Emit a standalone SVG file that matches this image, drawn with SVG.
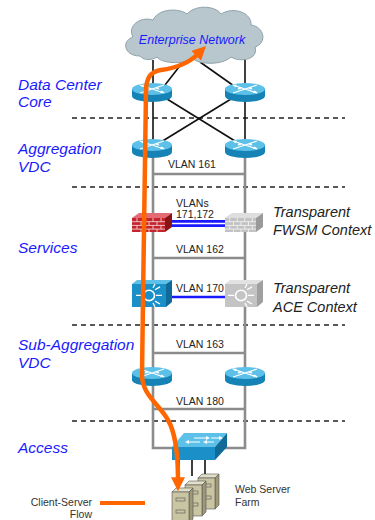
<svg xmlns="http://www.w3.org/2000/svg" width="375" height="520" viewBox="0 0 375 520">
  <style>
    .layer { font-family: "Liberation Sans", Arial, sans-serif; font-style: italic; font-size: 15.5px; fill: #1a1aff; }
    .ctx { font-family: "Liberation Sans", Arial, sans-serif; font-style: italic; font-size: 14.5px; fill: #222; }
    .vlan { font-family: "Liberation Sans", Arial, sans-serif; font-size: 10.5px; fill: #222; }
    .small { font-family: "Liberation Sans", Arial, sans-serif; font-size: 10.5px; fill: #333; }
    .dash { stroke: #222; stroke-width: 1.3; stroke-dasharray: 5 4; fill: none; }
    .blk { stroke: #111; stroke-width: 1.6; fill: none; }
    .gry { stroke: #8c8c8c; stroke-width: 2.6; fill: none; }
    .flow { stroke: #ff6600; stroke-width: 4.5; fill: none; }
  </style>
  <defs>
    <marker id="ah" viewBox="0 0 10 10" refX="2" refY="5" markerWidth="14" markerHeight="14" markerUnits="userSpaceOnUse" orient="auto-start-reverse">
      <path d="M0,0 L10,5 L0,10 Z" fill="#ff6600"/>
    </marker>
    <g id="router">
      <path d="M-20,-3 V4 A20,6 0 0 0 20,4 V-3 Z" fill="#1583b5"/>
      <ellipse cx="0" cy="-3" rx="20" ry="6" fill="#5cc0e8"/>
      <path d="M-12,-7 L12,1 M12,-7 L-12,1" stroke="#fff" stroke-width="1.2" fill="none"/>
      <path d="M-13,-7.3 L-8,-7.2 L-9.5,-4.8 Z M13,0.8 L8,0.8 L9.5,-1.6 Z M-3,-3 L-7.5,-2.6 L-6.2,-4.9 Z M3,-3 L7.5,-2.6 L6.2,-4.9 Z" fill="#fff"/>
    </g>
    <g id="bricks">
      <path d="M0,5 H33 M0,10 H33 M0,15 H33 M5,0 V5 M13,0 V5 M21,0 V5 M29,0 V5 M9,5 V10 M17,5 V10 M25,5 V10 M5,10 V15 M13,10 V15 M21,10 V15 M29,10 V15 M9,15 V19 M17,15 V19 M25,15 V19" stroke="#fff" stroke-width="0.8" fill="none"/>
    </g>
    <g id="ace-face">
      <circle cx="17" cy="12" r="5.5" fill="none" stroke="#fff" stroke-width="1.6"/>
      <path d="M4,12 H10 M24,12 H30 M23,6 L28,3 M23,18 L28,21 M21,4 L23,0 M21,20 L23,24" stroke="#fff" stroke-width="1.3" fill="none"/>
    </g>
    <g id="server">
      <path d="M0,4 L4,0 H21 L17,4 Z" fill="#e2dfc6" stroke="#555" stroke-width="0.6"/>
      <path d="M17,4 L21,0 V31 L17,35 Z" fill="#9e9878" stroke="#555" stroke-width="0.6"/>
      <rect x="0" y="4" width="17" height="31" fill="#c9c4a2" stroke="#555" stroke-width="0.6"/>
      <rect x="4" y="10" width="9" height="3" fill="none" stroke="#555" stroke-width="0.6"/>
      <rect x="4" y="22" width="9" height="3" fill="none" stroke="#555" stroke-width="0.6"/>
    </g>
  </defs>

  <!-- tier separators -->
  <g id="separators">
    <line class="dash" x1="72" y1="118" x2="345" y2="118"/>
    <line class="dash" x1="72" y1="187" x2="345" y2="187"/>
    <line class="dash" x1="72" y1="325" x2="345" y2="325"/>
    <line class="dash" x1="72" y1="421" x2="345" y2="421"/>
  </g>

  <!-- tier names -->
  <g id="tier-labels">
    <text class="layer" x="18" y="90">Data Center</text>
    <text class="layer" x="18" y="107">Core</text>
    <text class="layer" x="18" y="154">Aggregation</text>
    <text class="layer" x="18" y="172">VDC</text>
    <text class="layer" x="18" y="253">Services</text>
    <text class="layer" x="18" y="350">Sub-Aggregation</text>
    <text class="layer" x="18" y="368">VDC</text>
    <text class="layer" x="18" y="453">Access</text>
  </g>

  <!-- links -->
  <g id="connectors">
    <line class="blk" x1="153" y1="60" x2="153" y2="86"/>
    <line class="blk" x1="245" y1="55" x2="245" y2="86"/>
    <line class="blk" x1="165" y1="85" x2="186" y2="58"/>
    <line class="blk" x1="234" y1="86" x2="200" y2="62"/>
    <line class="blk" x1="153" y1="98" x2="153" y2="142"/>
    <line class="blk" x1="245" y1="98" x2="245" y2="142"/>
    <line class="blk" x1="167" y1="99" x2="235" y2="141"/>
    <line class="blk" x1="231" y1="99" x2="161" y2="142"/>
    <path class="gry" d="M153,156 V448 H174 M245,156 V448 H225"/>
    <line class="gry" x1="153" y1="174" x2="245" y2="174"/>
    <line class="gry" x1="153" y1="258" x2="245" y2="258"/>
    <line class="gry" x1="153" y1="353" x2="245" y2="353"/>
    <line class="gry" x1="153" y1="409" x2="245" y2="409"/>
    <line x1="171" y1="223.5" x2="226" y2="223.5" stroke="#1a1aff" stroke-width="7"/>
    <line x1="171" y1="223.5" x2="226" y2="223.5" stroke="#fff" stroke-width="1.6"/>
    <line x1="171" y1="297" x2="226" y2="297" stroke="#1a1aff" stroke-width="2.6"/>
    <path class="blk" d="M179,460 V478 M192,460 V476 M205,460 V476"/>
  </g>

  <!-- VLAN labels -->
  <g id="vlan-labels">
    <text class="vlan" x="168" y="168">VLAN 161</text>
    <text class="vlan" x="176" y="207">VLANs</text>
    <text class="vlan" x="176" y="218">171,172</text>
    <text class="vlan" x="176" y="253">VLAN 162</text>
    <text class="vlan" x="176" y="292">VLAN 170</text>
    <text class="vlan" x="176" y="348">VLAN 163</text>
    <text class="vlan" x="176" y="405">VLAN 180</text>
  </g>

  <!-- enterprise cloud -->
  <g id="enterprise-network">
    <path d="M140,56 C124,56 121,41 133,37 C127,26 140,16 153,20 C159,8 179,8 187,14 C196,4 216,6 221,14 C234,6 252,13 251,25 C265,27 267,43 255,47 C259,59 241,63 231,57 C223,65 201,65 193,59 C181,65 161,63 157,57 C151,61 143,60 140,56 Z" fill="#b7c7cd" stroke="#8fa3aa" stroke-width="1"/>
    <text x="192" y="44" text-anchor="middle" font-family="Liberation Sans, Arial, sans-serif" font-style="italic" font-size="12.5" fill="#1a1aff">Enterprise Network</text>
  </g>

  <!-- routers -->
  <g id="core-left"><use href="#router" transform="translate(152,92)"/></g>
  <g id="core-right"><use href="#router" transform="translate(245,92)"/></g>
  <g id="agg-left"><use href="#router" transform="translate(152,148)"/></g>
  <g id="agg-right"><use href="#router" transform="translate(245,148)"/></g>
  <g id="subagg-left"><use href="#router" transform="translate(152,376)"/></g>
  <g id="subagg-right"><use href="#router" transform="translate(245,376)"/></g>

  <!-- firewall contexts -->
  <g id="fwsm-active">
    <path d="M132,218 L139,213 H172 L165,218 Z" fill="#e46a74"/>
    <path d="M165,218 L172,213 V227 L165,232 Z" fill="#8a1414"/>
    <rect x="132" y="218" width="33" height="14" fill="#c4242c"/>
    <g transform="translate(132,218) scale(1,0.74)"><use href="#bricks"/></g>
  </g>
  <g id="fwsm-standby">
    <path d="M225,218 L232,213 H263 L256,218 Z" fill="#dedede"/>
    <path d="M256,218 L263,213 V227 L256,232 Z" fill="#9a9a9a"/>
    <rect x="225" y="218" width="31" height="14" fill="#c2c2c2"/>
    <g transform="translate(225,218) scale(0.94,0.74)"><use href="#bricks"/></g>
  </g>
  <g id="text-fwsm">
    <text class="ctx" x="273" y="217">Transparent</text>
    <text class="ctx" x="273" y="235">FWSM Context</text>
  </g>

  <!-- ACE contexts -->
  <g id="ace-active">
    <path d="M132,284 L137,280 H172 L166,284 Z" fill="#5cc0e8"/>
    <path d="M166,284 L172,280 V302 L166,307 Z" fill="#0f6a98"/>
    <rect x="132" y="284" width="34" height="23" fill="#1a8fc8"/>
    <use href="#ace-face" transform="translate(132,284) scale(1,0.95)"/>
  </g>
  <g id="ace-standby">
    <path d="M225,284 L230,280 H263 L257,284 Z" fill="#e2e2e2"/>
    <path d="M257,284 L263,280 V302 L257,307 Z" fill="#a0a0a0"/>
    <rect x="225" y="284" width="32" height="23" fill="#c4c4c4"/>
    <use href="#ace-face" transform="translate(224,284) scale(1,0.95)"/>
  </g>
  <g id="text-ace">
    <text class="ctx" x="273" y="293">Transparent</text>
    <text class="ctx" x="273" y="312">ACE Context</text>
  </g>

  <!-- access switch -->
  <g id="access-switch">
    <path d="M184,433 H227 L215,447 H172 Z" fill="#5cc0e8"/>
    <path d="M215,447 L227,433 V447 L215,460 Z" fill="#0f6a98"/>
    <rect x="172" y="447" width="43" height="13" fill="#1a8fc8"/>
    <path d="M187,442 H200 M194,438 H208 M205,442 H214 M211,438 H221" stroke="#fff" stroke-width="1.2" fill="none"/>
    <path d="M185,442 L189,440 L189,444 Z M210,438 L206,436 L206,440 Z M203,442 L207,440 L207,444 Z M223,438 L219,436 L219,440 Z" fill="#fff"/>
  </g>

  <!-- server farm -->
  <g id="web-server-farm">
    <use href="#server" transform="translate(198,474)"/>
    <use href="#server" transform="translate(185,481)"/>
    <use href="#server" transform="translate(172,488)"/>
  </g>
  <g id="text-farm">
    <text class="small" x="235" y="493">Web Server</text>
    <text class="small" x="235" y="506">Farm</text>
  </g>

  <!-- client-server traffic path -->
  <g id="flow">
    <path class="flow" marker-start="url(#ah)" marker-end="url(#ah)" d="M198,54 C190,62 176,68 161,70 C150,72 146,78 146,92 L143,300 L142,375 C142,395 160,405 168,420 C175,432 178,450 178,480"/>
  </g>

  <!-- legend -->
  <g id="legend">
    <line x1="100" y1="503" x2="145" y2="503" stroke="#ff6600" stroke-width="4"/>
    <text class="small" x="92" y="506" text-anchor="end">Client-Server</text>
    <text class="small" x="92" y="518" text-anchor="end">Flow</text>
  </g>
</svg>
